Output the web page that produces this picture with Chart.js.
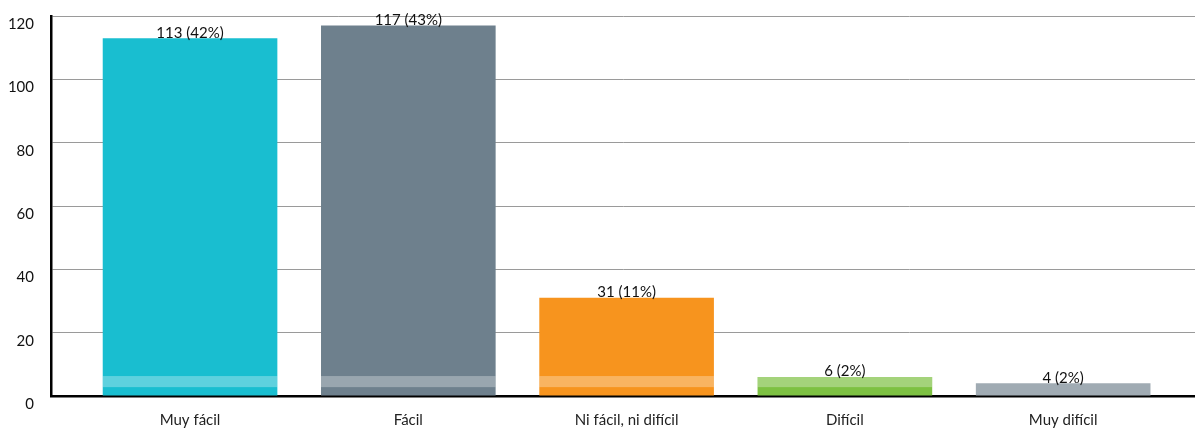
<!DOCTYPE html>
<html>
<head>
<meta charset="utf-8">
<script src="https://cdn.jsdelivr.net/npm/chart.js@4"></script>
<style>
  html, body { margin: 0; padding: 0; background: #fff; }
  #wrap { width: 1195px; height: 430px; position: relative; }
</style>
</head>
<body>
<div id="wrap"><canvas id="chart"></canvas></div>
<script>
const categories = ["Muy fácil", "Fácil", "Ni fácil, ni difícil", "Difícil", "Muy difícil"];
const counts = [113, 117, 31, 6, 4];
const percents = [42, 43, 11, 2, 2];
const yTicks = [0, 20, 40, 60, 80, 100, 120];

const barColors = ["#19bed0", "#6e808d", "#f7941e", "#7dc142", "#a0abb3"];
const bandColors = ["rgba(255,255,255,0.3)", "rgba(255,255,255,0.3)", "rgba(255,255,255,0.3)",
                    "rgba(255,255,255,0.3)", "rgba(255,255,255,0)"];
const bandRange = [2.8, 6.3];

const FONT = "Lato, 'Open Sans', sans-serif";

// light band across the foot of each bar
const bandPlugin = {
  id: "band",
  afterDatasetsDraw(chart) {
    const c = chart.ctx;
    const y = chart.scales.y;
    chart.getDatasetMeta(0).data.forEach((bar, i) => {
      const top = Math.max(y.getPixelForValue(bandRange[1]), bar.y);
      const bottom = y.getPixelForValue(bandRange[0]);
      if (bottom <= top) return;
      c.save();
      c.fillStyle = bandColors[i];
      c.fillRect(bar.x - bar.width / 2, top, bar.width, bottom - top);
      c.restore();
    });
  }
};

// value labels above the bars
const valuePlugin = {
  id: "values",
  afterDatasetsDraw(chart) {
    const c = chart.ctx;
    c.save();
    c.font = "15px " + FONT;
    c.fillStyle = "#111";
    c.textAlign = "center";
    c.textBaseline = "bottom";
    chart.getDatasetMeta(0).data.forEach((bar, i) => {
      c.fillText(`${counts[i]} (${percents[i]}%)`, bar.x, bar.y + 2);
    });
    c.restore();
  }
};

new Chart(document.getElementById("chart"), {
  type: "bar",
  data: {
    datasets: [{
      data: counts.map((v, i) => ({ x: i, y: v })),
      backgroundColor: barColors,
      borderWidth: 0,
      barPercentage: 0.8,
      categoryPercentage: 1
    }]
  },
  options: {
    responsive: true,
    maintainAspectRatio: false,
    animation: false,
    layout: { padding: { top: 16, left: 0, right: 0, bottom: 0 } },
    plugins: { legend: { display: false }, tooltip: { enabled: false } },
    scales: {
      x: {
        type: "linear",
        offset: false,
        min: -0.637,
        max: 4.604,
        afterBuildTicks: s => { s.ticks = categories.map((_, i) => ({ value: i })); },
        afterFit: s => { s.height = 34; s.paddingLeft = 0; s.paddingRight = 0; },
        grid: { display: false, drawTicks: false, offset: false },
        border: { color: "#000", width: 2.5 },
        ticks: {
          padding: 15,
          maxRotation: 0,
          autoSkip: false,
          color: "#222",
          font: { family: FONT, size: 15 },
          callback: v => categories[v]
        }
      },
      y: {
        min: 0,
        max: 120,
        afterBuildTicks: s => { s.ticks = yTicks.map(v => ({ value: v })); },
        afterFit: s => { s.width = 51; s.paddingTop = 0; s.paddingBottom = 0; },
        grid: { color: "#9a9a9a", lineWidth: 1, drawTicks: false },
        border: { color: "#000", width: 2.5 },
        ticks: {
          padding: 17,
          labelOffset: 8,
          color: "#111",
          font: { family: FONT, size: 15 }
        }
      }
    }
  },
  plugins: [bandPlugin, valuePlugin]
});
</script>
</body>
</html>
